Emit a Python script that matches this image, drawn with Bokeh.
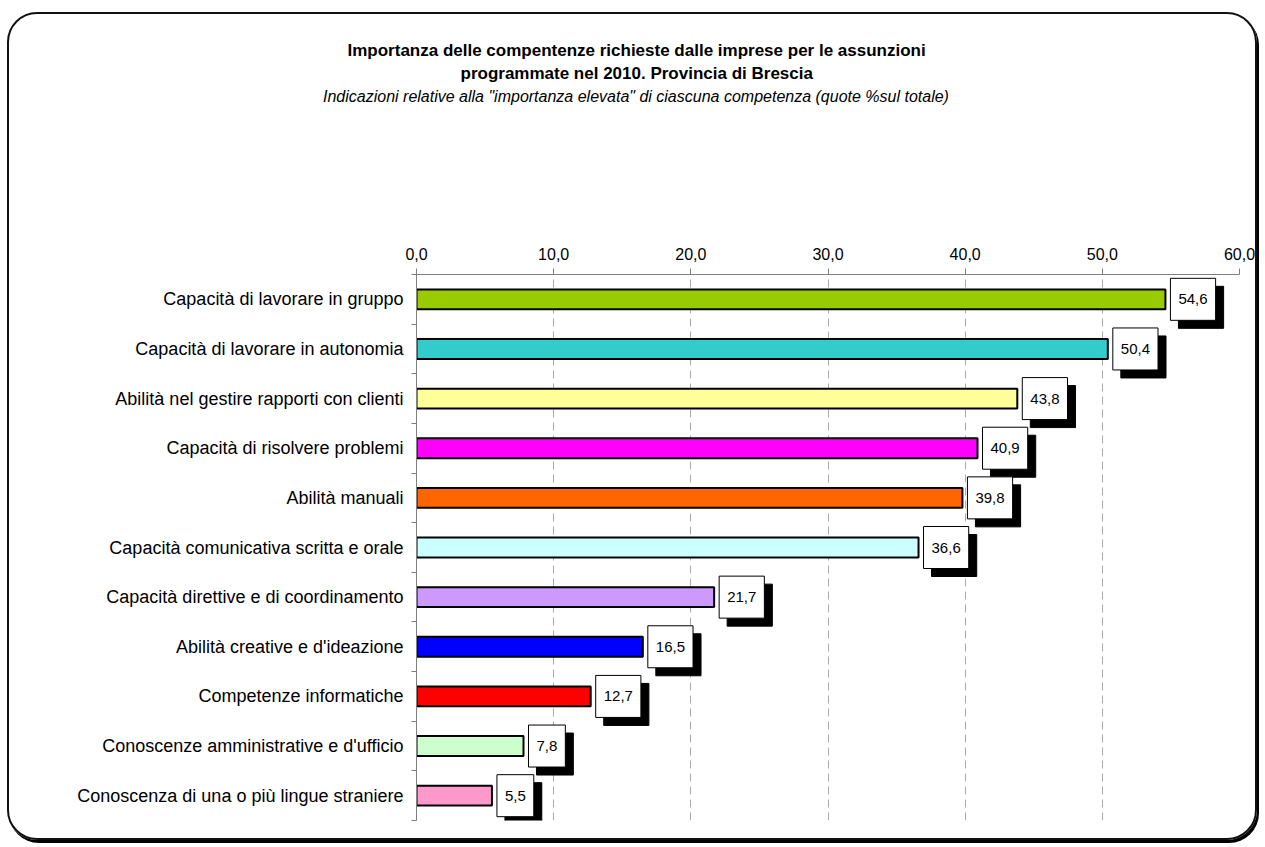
from bokeh.plotting import figure
from bokeh.models import ColumnDataSource, FixedTicker, Range1d, Title, LinearAxis
from bokeh.core.properties import value
from bokeh.embed import file_html
from bokeh.resources import INLINE

categories = [
    "Capacità di lavorare in gruppo",
    "Capacità di lavorare in autonomia",
    "Abilità nel gestire rapporti con clienti",
    "Capacità di risolvere problemi",
    "Abilità manuali",
    "Capacità comunicativa scritta e orale",
    "Capacità direttive e di coordinamento",
    "Abilità creative e d'ideazione",
    "Competenze informatiche",
    "Conoscenze amministrative e d'ufficio",
    "Conoscenza di una o più lingue straniere",
]
values = [54.6, 50.4, 43.8, 40.9, 39.8, 36.6, 21.7, 16.5, 12.7, 7.8, 5.5]
colors = ["#99CC00", "#33CCCC", "#FFFF99", "#FF00FF", "#FF6600", "#CCFFFF",
          "#CC99FF", "#0000FF", "#FF0000", "#CCFFCC", "#FF99CC"]
x_ticks = [0, 10, 20, 30, 40, 50, 60]
x_tick_labels = ["0,0", "10,0", "20,0", "30,0", "40,0", "50,0", "60,0"]
title_1 = "Importanza delle compentenze richieste dalle imprese per le assunzioni"
title_2 = "programmate nel 2010. Provincia di Brescia"
subtitle = "Indicazioni relative alla \"importanza elevata\" di ciascuna competenza (quote %sul totale)"

FONT = "Liberation Sans"
n = len(categories)
# category slots, first category at the top
slots = [n - i - 0.5 for i in range(n)]

src = ColumnDataSource(dict(
    cat=categories,
    pos=slots,
    val=values,
    color=colors,
    lab=[f"{v:.1f}".replace(".", ",") for v in values],
))

W, H = 1250, 828
p = figure(width=W, height=H,
           y_range=Range1d(0, n),
           x_range=Range1d(0, 60),
           x_axis_location="above", y_axis_location="left",
           output_backend="svg", toolbar_location=None,
           min_border_left=407, min_border_top=260,
           min_border_right=20, min_border_bottom=22)
p.outline_line_color = None
p.border_fill_color = None
p.background_fill_color = "white"
p.styles = {"border": "2px solid #111", "border-radius": "30px",
            "margin-left": "7px", "margin-top": "12px",
            "box-shadow": "2px 3px 0 #000"}

# top x axis
xa = p.xaxis[0]
xa.ticker = FixedTicker(ticks=x_ticks)
xa.major_label_overrides = {t: l for t, l in zip(x_ticks, x_tick_labels)}
xa.axis_line_color = "#808080"
xa.major_tick_line_color = "#808080"
xa.major_tick_out = 6
xa.major_tick_in = 0
xa.minor_tick_line_color = None
xa.major_label_text_font = FONT
xa.major_label_text_font_size = "16px"
xa.major_label_text_color = "black"
xa.major_label_standoff = 9

# subtitle carried by an outer, line-less axis so that the blank band
# below it stays between the subtitle and the value axis
SUB_AT = 16
sub_axis = LinearAxis(ticker=FixedTicker(ticks=[SUB_AT]))
sub_axis.major_label_overrides = {SUB_AT: subtitle}
sub_axis.axis_line_color = None
sub_axis.major_tick_line_color = None
sub_axis.minor_tick_line_color = None
sub_axis.major_tick_out = 0
sub_axis.major_tick_in = 0
sub_axis.major_label_standoff = 140
sub_axis.major_label_text_font = FONT
sub_axis.major_label_text_font_size = "16px"
sub_axis.major_label_text_font_style = "italic"
sub_axis.major_label_text_color = "black"
p.add_layout(sub_axis, "above")

p.xgrid.ticker = FixedTicker(ticks=x_ticks[1:-1])
p.xgrid.grid_line_color = "#AAAAAA"
p.xgrid.grid_line_dash = "8 5"
p.ygrid.grid_line_color = None

# left category axis: labels at slot centres, small ticks between categories
ya = p.yaxis[0]
ya.ticker = FixedTicker(ticks=slots, minor_ticks=list(range(n + 1)))
ya.major_label_overrides = {s: c for s, c in zip(slots, categories)}
ya.axis_line_color = "#808080"
ya.major_tick_line_color = None
ya.minor_tick_line_color = "#808080"
ya.minor_tick_out = 5
ya.minor_tick_in = 0
ya.major_tick_out = 0
ya.major_tick_in = 0
ya.major_label_text_font = FONT
ya.major_label_text_font_size = "18px"
ya.major_label_text_color = "black"
ya.major_label_standoff = 8

p.hbar(y="pos", right="val", left=0, height=0.4, fill_color="color",
       line_color="black", line_width=2, source=src)

pad = (8, 16)
p.text(x="val", y="pos", text="lab", source=src,
       x_offset=13, y_offset=8, text_align="left", text_baseline="middle",
       text_font=value(FONT), text_font_size="15px", text_color="black",
       background_fill_color="black", border_line_color="black",
       padding=pad)
p.text(x="val", y="pos", text="lab", source=src,
       x_offset=5, y_offset=0, text_align="left", text_baseline="middle",
       text_font=value(FONT), text_font_size="15px", text_color="black",
       background_fill_color="white", border_line_color="black",
       border_line_width=1, padding=pad)

# title lines (added from the plot outward)
p.add_layout(Title(text=title_2, align="left", offset=44, standoff=4,
                   text_font=FONT, text_font_size="17px", text_font_style="bold",
                   text_color="black"), "above")
p.add_layout(Title(text=title_1, align="left", offset=-69, standoff=0,
                   text_font=FONT, text_font_size="17px", text_font_style="bold",
                   text_color="black"), "above")

open("out.html", "w").write(file_html(p, INLINE))
